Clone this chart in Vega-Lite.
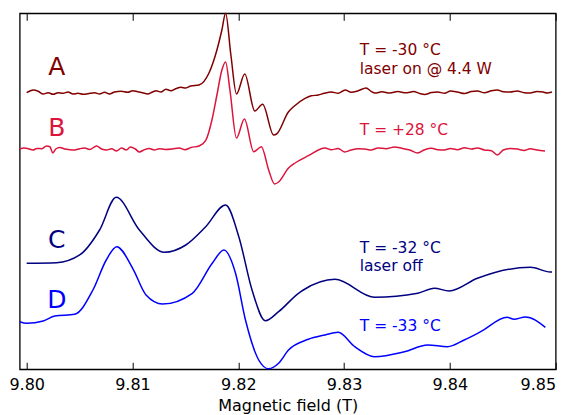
{
  "$schema": "https://vega.github.io/schema/vega-lite/v6.json",
  "width": 536,
  "height": 356,
  "autosize": {"type": "none"},
  "padding": {"left": 19.7, "top": 13.3, "right": 17.7, "bottom": 45.7},
  "config": {"view": {"stroke": "black", "strokeWidth": 1.3}, "font": "DejaVu Sans"},
  "datasets": {
    "spectra": [
      {"s":"A","f":9.80000,"v":276.6},{"s":"A","f":9.80062,"v":279.3},{"s":"A","f":9.80109,"v":278.0},{"s":"A","f":9.80156,"v":275.3},{"s":"A","f":9.80203,"v":276.6},{"s":"A","f":9.80250,"v":275.0},{"s":"A","f":9.80297,"v":276.6},{"s":"A","f":9.80344,"v":276.0},{"s":"A","f":9.80391,"v":277.3},{"s":"A","f":9.80438,"v":275.3},{"s":"A","f":9.80485,"v":276.0},{"s":"A","f":9.80532,"v":275.0},{"s":"A","f":9.80579,"v":275.6},{"s":"A","f":9.80642,"v":276.6},{"s":"A","f":9.80689,"v":275.3},{"s":"A","f":9.80736,"v":277.0},{"s":"A","f":9.80783,"v":275.3},{"s":"A","f":9.80830,"v":277.3},{"s":"A","f":9.80893,"v":278.0},{"s":"A","f":9.80955,"v":277.0},{"s":"A","f":9.81002,"v":278.6},{"s":"A","f":9.81049,"v":277.6},{"s":"A","f":9.81096,"v":276.6},{"s":"A","f":9.81143,"v":275.3},{"s":"A","f":9.81190,"v":277.3},{"s":"A","f":9.81222,"v":278.6},{"s":"A","f":9.81269,"v":277.3},{"s":"A","f":9.81316,"v":280.0},{"s":"A","f":9.81363,"v":278.6},{"s":"A","f":9.81410,"v":280.6},{"s":"A","f":9.81457,"v":282.0},{"s":"A","f":9.81504,"v":281.3},{"s":"A","f":9.81551,"v":283.3},{"s":"A","f":9.81629,"v":284.3},{"s":"A","f":9.81723,"v":296.3},{"s":"A","f":9.81798,"v":319.3},{"s":"A","f":9.81845,"v":339.3},{"s":"A","f":9.81880,"v":356.0},{"s":"A","f":9.81930,"v":314.3},{"s":"A","f":9.81983,"v":275.3},{"s":"A","f":9.82061,"v":295.3},{"s":"A","f":9.82156,"v":258.3},{"s":"A","f":9.82230,"v":265.0},{"s":"A","f":9.82334,"v":234.3},{"s":"A","f":9.82362,"v":235.3},{"s":"A","f":9.82475,"v":257.6},{"s":"A","f":9.82522,"v":262.6},{"s":"A","f":9.82631,"v":271.0},{"s":"A","f":9.82690,"v":273.5},{"s":"A","f":9.82756,"v":274.3},{"s":"A","f":9.82812,"v":276.0},{"s":"A","f":9.82879,"v":277.3},{"s":"A","f":9.82944,"v":276.0},{"s":"A","f":9.83010,"v":279.3},{"s":"A","f":9.83067,"v":277.0},{"s":"A","f":9.83133,"v":278.5},{"s":"A","f":9.83208,"v":281.3},{"s":"A","f":9.83255,"v":278.0},{"s":"A","f":9.83292,"v":276.3},{"s":"A","f":9.83358,"v":277.5},{"s":"A","f":9.83433,"v":276.3},{"s":"A","f":9.83508,"v":277.8},{"s":"A","f":9.83583,"v":276.5},{"s":"A","f":9.83658,"v":277.8},{"s":"A","f":9.83715,"v":275.8},{"s":"A","f":9.83762,"v":274.8},{"s":"A","f":9.83827,"v":276.8},{"s":"A","f":9.83884,"v":277.3},{"s":"A","f":9.83950,"v":276.0},{"s":"A","f":9.84006,"v":278.3},{"s":"A","f":9.84072,"v":277.3},{"s":"A","f":9.84138,"v":275.8},{"s":"A","f":9.84203,"v":277.8},{"s":"A","f":9.84260,"v":278.3},{"s":"A","f":9.84326,"v":276.5},{"s":"A","f":9.84392,"v":278.5},{"s":"A","f":9.84448,"v":279.3},{"s":"A","f":9.84504,"v":277.6},{"s":"A","f":9.84570,"v":277.3},{"s":"A","f":9.84636,"v":278.3},{"s":"A","f":9.84702,"v":276.6},{"s":"A","f":9.84758,"v":276.3},{"s":"A","f":9.84824,"v":277.8},{"s":"A","f":9.84880,"v":277.3},{"s":"A","f":9.84918,"v":276.3},{"s":"A","f":9.84965,"v":277.3},
      {"s":"B","f":9.79934,"v":220.3},{"s":"B","f":9.79975,"v":221.3},{"s":"B","f":9.80015,"v":220.6},{"s":"B","f":9.80059,"v":219.3},{"s":"B","f":9.80097,"v":220.8},{"s":"B","f":9.80141,"v":220.6},{"s":"B","f":9.80188,"v":223.3},{"s":"B","f":9.80219,"v":222.6},{"s":"B","f":9.80247,"v":216.3},{"s":"B","f":9.80275,"v":220.3},{"s":"B","f":9.80313,"v":221.8},{"s":"B","f":9.80360,"v":220.3},{"s":"B","f":9.80407,"v":219.6},{"s":"B","f":9.80454,"v":219.3},{"s":"B","f":9.80501,"v":220.6},{"s":"B","f":9.80548,"v":221.3},{"s":"B","f":9.80595,"v":219.8},{"s":"B","f":9.80661,"v":223.3},{"s":"B","f":9.80708,"v":220.3},{"s":"B","f":9.80755,"v":219.3},{"s":"B","f":9.80802,"v":220.5},{"s":"B","f":9.80849,"v":218.3},{"s":"B","f":9.80896,"v":221.3},{"s":"B","f":9.80943,"v":219.3},{"s":"B","f":9.80980,"v":222.3},{"s":"B","f":9.81027,"v":220.3},{"s":"B","f":9.81065,"v":217.3},{"s":"B","f":9.81112,"v":219.6},{"s":"B","f":9.81159,"v":220.8},{"s":"B","f":9.81206,"v":219.3},{"s":"B","f":9.81253,"v":220.6},{"s":"B","f":9.81309,"v":219.8},{"s":"B","f":9.81375,"v":220.3},{"s":"B","f":9.81441,"v":221.3},{"s":"B","f":9.81497,"v":219.6},{"s":"B","f":9.81553,"v":221.8},{"s":"B","f":9.81629,"v":223.3},{"s":"B","f":9.81694,"v":229.3},{"s":"B","f":9.81751,"v":249.3},{"s":"B","f":9.81798,"v":274.3},{"s":"B","f":9.81845,"v":299.3},{"s":"B","f":9.81880,"v":307.3},{"s":"B","f":9.81921,"v":279.3},{"s":"B","f":9.81983,"v":231.3},{"s":"B","f":9.82058,"v":250.3},{"s":"B","f":9.82146,"v":217.6},{"s":"B","f":9.82218,"v":222.6},{"s":"B","f":9.82287,"v":199.3},{"s":"B","f":9.82343,"v":185.3},{"s":"B","f":9.82381,"v":187.3},{"s":"B","f":9.82475,"v":201.3},{"s":"B","f":9.82537,"v":206.3},{"s":"B","f":9.82662,"v":213.6},{"s":"B","f":9.82819,"v":221.3},{"s":"B","f":9.82879,"v":219.6},{"s":"B","f":9.82944,"v":220.8},{"s":"B","f":9.83007,"v":217.3},{"s":"B","f":9.83067,"v":219.3},{"s":"B","f":9.83133,"v":220.6},{"s":"B","f":9.83195,"v":220.3},{"s":"B","f":9.83255,"v":219.3},{"s":"B","f":9.83320,"v":221.3},{"s":"B","f":9.83396,"v":220.6},{"s":"B","f":9.83477,"v":222.3},{"s":"B","f":9.83546,"v":221.0},{"s":"B","f":9.83621,"v":219.3},{"s":"B","f":9.83696,"v":216.3},{"s":"B","f":9.83762,"v":219.6},{"s":"B","f":9.83827,"v":221.0},{"s":"B","f":9.83884,"v":219.6},{"s":"B","f":9.83947,"v":219.3},{"s":"B","f":9.84006,"v":220.8},{"s":"B","f":9.84072,"v":219.6},{"s":"B","f":9.84138,"v":221.6},{"s":"B","f":9.84203,"v":220.3},{"s":"B","f":9.84260,"v":221.3},{"s":"B","f":9.84326,"v":219.3},{"s":"B","f":9.84392,"v":218.6},{"s":"B","f":9.84448,"v":214.3},{"s":"B","f":9.84504,"v":219.3},{"s":"B","f":9.84570,"v":220.8},{"s":"B","f":9.84636,"v":220.3},{"s":"B","f":9.84702,"v":218.8},{"s":"B","f":9.84758,"v":220.6},{"s":"B","f":9.84824,"v":219.3},{"s":"B","f":9.84899,"v":218.3},
      {"s":"C","f":9.80000,"v":106.0},{"s":"C","f":9.80282,"v":106.6},{"s":"C","f":9.80501,"v":114.3},{"s":"C","f":9.80689,"v":139.3},{"s":"C","f":9.80846,"v":172.0},{"s":"C","f":9.81065,"v":139.3},{"s":"C","f":9.81300,"v":117.0},{"s":"C","f":9.81504,"v":124.3},{"s":"C","f":9.81692,"v":142.6},{"s":"C","f":9.81880,"v":164.3},{"s":"C","f":9.82005,"v":132.6},{"s":"C","f":9.82130,"v":79.3},{"s":"C","f":9.82256,"v":48.6},{"s":"C","f":9.82381,"v":57.6},{"s":"C","f":9.82569,"v":76.0},{"s":"C","f":9.82615,"v":79.3},{"s":"C","f":9.82913,"v":90.0},{"s":"C","f":9.83289,"v":72.0},{"s":"C","f":9.83696,"v":76.0},{"s":"C","f":9.83853,"v":81.0},{"s":"C","f":9.83994,"v":78.3},{"s":"C","f":9.84260,"v":91.0},{"s":"C","f":9.84417,"v":96.6},{"s":"C","f":9.84761,"v":102.0},{"s":"C","f":9.84949,"v":97.3},{"s":"C","f":9.84965,"v":97.3},
      {"s":"D","f":9.79934,"v":47.6},{"s":"D","f":9.80000,"v":46.0},{"s":"D","f":9.80156,"v":48.3},{"s":"D","f":9.80266,"v":53.3},{"s":"D","f":9.80454,"v":55.0},{"s":"D","f":9.80626,"v":79.3},{"s":"D","f":9.80752,"v":109.3},{"s":"D","f":9.80851,"v":122.6},{"s":"D","f":9.81002,"v":101.0},{"s":"D","f":9.81128,"v":74.3},{"s":"D","f":9.81284,"v":65.3},{"s":"D","f":9.81566,"v":76.0},{"s":"D","f":9.81754,"v":106.0},{"s":"D","f":9.81864,"v":119.3},{"s":"D","f":9.81974,"v":96.0},{"s":"D","f":9.82068,"v":49.3},{"s":"D","f":9.82193,"v":9.3},{"s":"D","f":9.82287,"v":0.5},{"s":"D","f":9.82381,"v":6.0},{"s":"D","f":9.82475,"v":19.3},{"s":"D","f":9.82662,"v":30.0},{"s":"D","f":9.82819,"v":34.3},{"s":"D","f":9.82944,"v":37.0},{"s":"D","f":9.83101,"v":22.6},{"s":"D","f":9.83289,"v":12.6},{"s":"D","f":9.83571,"v":17.6},{"s":"D","f":9.83790,"v":24.3},{"s":"D","f":9.83978,"v":22.6},{"s":"D","f":9.84135,"v":29.3},{"s":"D","f":9.84291,"v":37.6},{"s":"D","f":9.84542,"v":52.0},{"s":"D","f":9.84605,"v":50.0},{"s":"D","f":9.84714,"v":52.3},{"s":"D","f":9.84902,"v":42.0}
    ],
    "letters": [
      {"s":"A","f":9.80285,"v":302.3,"t":"A"},
      {"s":"B","f":9.80285,"v":241.3,"t":"B"},
      {"s":"C","f":9.80285,"v":129.3,"t":"C"},
      {"s":"D","f":9.80285,"v":69.3,"t":"D"}
    ],
    "notes": [
      {"s":"A","f":9.83148,"v":319.3,"t":"T = -30 °C"},
      {"s":"A","f":9.83148,"v":300.8,"t":"laser on @ 4.4 W"},
      {"s":"B","f":9.83148,"v":239.3,"t":"T = +28 °C"},
      {"s":"C","f":9.83148,"v":120.8,"t":"T = -32 °C"},
      {"s":"C","f":9.83148,"v":103.3,"t":"laser off"},
      {"s":"D","f":9.83148,"v":42.8,"t":"T = -33 °C"}
    ]
  },
  "resolve": {"axis": {"x": "independent"}},
  "layer": [
    {
      "data": {"name": "spectra"},
      "mark": {"type": "line", "strokeWidth": 1.5, "interpolate": "monotone"},
      "encoding": {
        "x": {"field": "f", "type": "quantitative", "scale": {"domain": [9.79934, 9.85], "nice": false, "zero": false},
          "axis": {"orient": "bottom", "values": [9.80, 9.81, 9.82, 9.83, 9.84, 9.85], "format": ".2f", "title": "Magnetic field (T)",
            "grid": false, "domain": false, "tickSize": -7, "tickColor": "black", "tickWidth": 1, "labelPadding": 14,
            "labelFontSize": 16, "labelColor": "black", "titleFontSize": 16, "titleFontWeight": "normal", "titleColor": "black", "titlePadding": 5, "labelFont": "DejaVu Sans", "titleFont": "DejaVu Sans"}},
        "y": {"field": "v", "type": "quantitative", "scale": {"domain": [0, 356], "nice": false, "zero": false}, "axis": null},
        "color": {"field": "s", "type": "nominal", "scale": {"domain": ["A", "B", "C", "D"], "range": ["#800000", "#dc143c", "#000080", "#0000ff"]}, "legend": null},
        "detail": {"field": "s"}
      }
    },
    {
      "data": {"name": "letters"},
      "mark": {"type": "text", "fontSize": 25, "align": "center", "baseline": "middle", "font": "DejaVu Sans"},
      "encoding": {
        "x": {"field": "f", "type": "quantitative",
          "axis": {"orient": "top", "values": [9.80, 9.81, 9.82, 9.83, 9.84, 9.85], "labels": false, "title": null, "grid": false, "domain": false, "tickSize": -7, "tickColor": "black", "tickWidth": 1}},
        "y": {"field": "v", "type": "quantitative"},
        "text": {"field": "t"},
        "color": {"field": "s", "type": "nominal", "legend": null}
      }
    },
    {
      "data": {"name": "notes"},
      "mark": {"type": "text", "fontSize": 15.5, "align": "left", "baseline": "middle", "font": "DejaVu Sans"},
      "encoding": {
        "x": {"field": "f", "type": "quantitative", "axis": null},
        "y": {"field": "v", "type": "quantitative"},
        "text": {"field": "t"},
        "color": {"field": "s", "type": "nominal", "legend": null}
      }
    }
  ]
}
